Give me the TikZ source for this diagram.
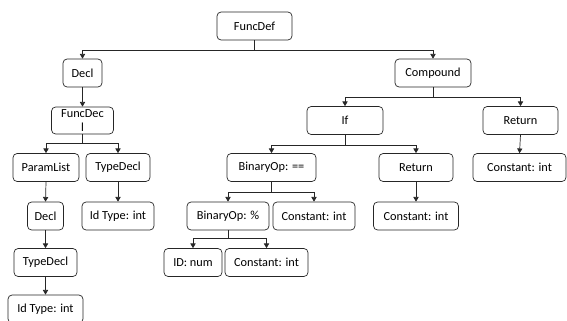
\documentclass[tikz,border=0pt]{standalone}
\usepackage{fontspec}
\setmainfont{Carlito}
\usetikzlibrary{arrows.meta}
\tikzset{
	box/.style = {draw = black!85, line width = 0.6pt, rounded corners = 3.5pt, minimum height = 0.84cm, inner sep = 1pt, font = \fontsize{10.5}{12}\selectfont, align = center},
	link/.style = {draw = black!85, line width = 0.6pt, -{Triangle[length = 4pt, width = 4.5pt]}}
}
\begin{document}
\begin{tikzpicture}
					\clip (0, 0) rectangle (17.01, 9.6);
					% root and first level
					\node[box, minimum width = 2.25cm] (funcdef) at (7.635, 8.82) {FuncDef};
					\node[box, minimum width = 1.17cm] (decl) at (2.475, 7.41) {Decl};
					\node[box, minimum width = 2.28cm] (compound) at (12.99, 7.41) {Compound};
					% left branch
					\node[box, minimum width = 1.86cm, minimum height = 0.81cm] (funcdecl) at (2.475, 5.985) {FuncDec\\l};
					\node[box, minimum width = 1.98cm] (paramlist) at (1.38, 4.575) {ParamList};
					\node[box, minimum width = 1.92cm] (typedecla) at (3.54, 4.575) {TypeDecl};
					\node[box, minimum width = 1.08cm] (declb) at (1.365, 3.12) {Decl};
					\node[box, minimum width = 2.16cm] (idtypea) at (3.54, 3.12) {Id Type: int};
					\node[box, minimum width = 1.89cm] (typedeclb) at (1.365, 1.725) {TypeDecl};
					\node[box, minimum width = 2.25cm] (idtypeb) at (1.365, 0.33) {Id Type: int};
					% right branch
					\node[box, minimum width = 2.28cm] (if) at (10.35, 5.985) {If};
					\node[box, minimum width = 2.25cm] (returna) at (15.615, 5.985) {Return};
					\node[box, minimum width = 2.67cm] (bineq) at (8.145, 4.575) {BinaryOp: ==};
					\node[box, minimum width = 2.22cm] (returnb) at (12.48, 4.575) {Return};
					\node[box, minimum width = 2.79cm] (consta) at (15.585, 4.575) {Constant: int};
					\node[box, minimum width = 2.46cm] (binmod) at (6.84, 3.12) {BinaryOp: \%};
					\node[box, minimum width = 2.46cm] (constb) at (9.42, 3.12) {Constant: int};
					\node[box, minimum width = 2.55cm] (constc) at (12.48, 3.12) {Constant: int};
					\node[box, minimum width = 1.74cm] (idnum) at (5.79, 1.725) {ID: num};
					\node[box, minimum width = 2.49cm] (constd) at (7.995, 1.725) {Constant: int};
					% connectors
					\draw[link] (funcdef.south) -- ++(0, -0.3) -| (decl.north);
					\draw[link] (funcdef.south) -- ++(0, -0.3) -| (compound.north);
					\draw[link] (decl.south) -- (funcdecl.north);
					\draw[link] (funcdecl.south) -- ++(0, -0.27) -| (paramlist.north);
					\draw[link] (funcdecl.south) -- ++(0, -0.27) -| (typedecla.north);
					\draw[link] (paramlist.south) -- (declb.north);
					\draw[link] (typedecla.south) -- (idtypea.north);
					\draw[link] (declb.south) -- (typedeclb.north);
					\draw[link] (typedeclb.south) -- (idtypeb.north);
					\draw[link] (compound.south) -- ++(0, -0.3) -| (if.north);
					\draw[link] (compound.south) -- ++(0, -0.3) -| (returna.north);
					\draw[link] (if.south) -- ++(0, -0.3) -| (bineq.north);
					\draw[link] (if.south) -- ++(0, -0.3) -| (returnb.north);
					\draw[link] (returna.south) -- (consta.north);
					\draw[link] (bineq.south) -- ++(0, -0.3) -| (binmod.north);
					\draw[link] (bineq.south) -- ++(0, -0.3) -| (constb.north);
					\draw[link] (returnb.south) -- (constc.north);
					\draw[link] (binmod.south) -- ++(0, -0.25) -| (idnum.north);
					\draw[link] (binmod.south) -- ++(0, -0.25) -| (constd.north);
				\end{tikzpicture}
\end{document}
